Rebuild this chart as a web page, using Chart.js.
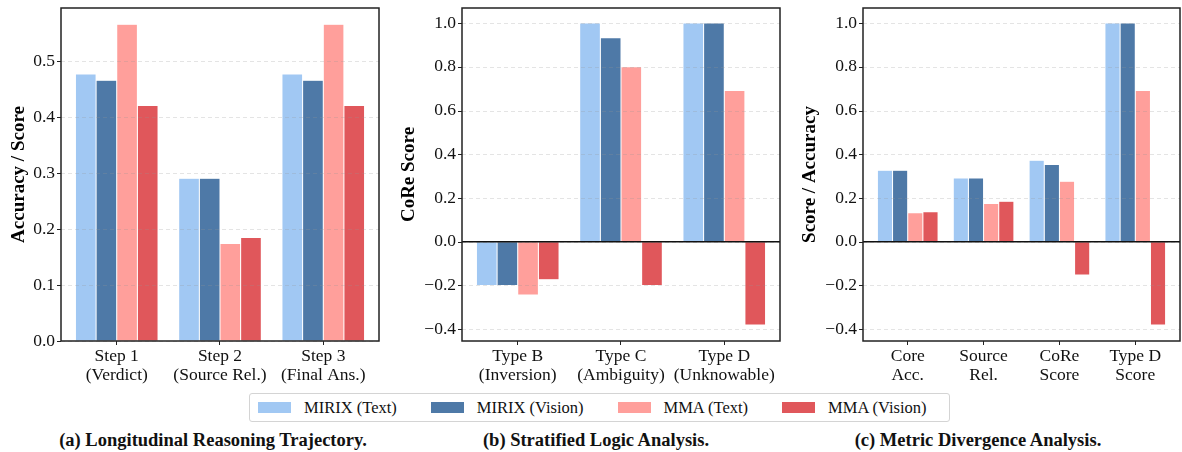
<!DOCTYPE html>
<html>
<head>
<meta charset="utf-8">
<script src="https://cdn.jsdelivr.net/npm/chart.js@4.4.0/dist/chart.umd.min.js"></script>
<style>
    html, body { margin: 0; padding: 0; background: #fff; }
    body { width: 1182px; height: 452px; position: relative; overflow: hidden; font-family: "Liberation Serif", "Times New Roman", serif; }
    .panel { position: absolute; top: 0; }
    .legend {
        position: absolute; left: 249px; top: 393px; width: 691px; height: 27px;
        border: 1px solid #d4d4d4; border-radius: 3px; box-sizing: content-box;
        display: flex; align-items: center; padding-left: 8px; gap: 34px;
        font-size: 16.5px; color: #111;
    }
    .legend .item { display: flex; align-items: center; white-space: nowrap; }
    .legend .sw { width: 33px; height: 11px; margin-right: 13px; }
    .caption { position: absolute; top: 430px; font-weight: bold; font-size: 18.5px; color: #111; white-space: nowrap; transform: translateX(-50%); }
</style>
</head>
<body>
<div class="panel" style="left:0px"><canvas id="chartA" width="390" height="390"></canvas></div>
<div class="panel" style="left:390px"><canvas id="chartB" width="400" height="390"></canvas></div>
<div class="panel" style="left:780px"><canvas id="chartC" width="402" height="390"></canvas></div>
<div class="legend" id="legend"></div>
<div class="caption" style="left:213px">(a) Longitudinal Reasoning Trajectory.</div>
<div class="caption" style="left:596px">(b) Stratified Logic Analysis.</div>
<div class="caption" style="left:978px">(c) Metric Divergence Analysis.</div>

<script>
    // Series names and colours
    const seriesNames = ['MIRIX (Text)', 'MIRIX (Vision)', 'MMA (Text)', 'MMA (Vision)'];
    const seriesColors = ['#a1c8f3', '#4e79a7', '#ff9f9b', '#e0575b'];

    // (a) Longitudinal reasoning trajectory
    const stepLabels = [['Step 1', '(Verdict)'], ['Step 2', '(Source Rel.)'], ['Step 3', '(Final Ans.)']];
    const stepMirixText = [0.477, 0.291, 0.477];
    const stepMirixVision = [0.466, 0.291, 0.466];
    const stepMmaText = [0.566, 0.174, 0.566];
    const stepMmaVision = [0.421, 0.185, 0.421];

    // (b) Stratified logic analysis
    const typeLabels = [['Type B', '(Inversion)'], ['Type C', '(Ambiguity)'], ['Type D', '(Unknowable)']];
    const typeMirixText = [-0.2, 1.0, 1.0];
    const typeMirixVision = [-0.2, 0.933, 1.0];
    const typeMmaText = [-0.244, 0.8, 0.692];
    const typeMmaVision = [-0.174, -0.2, -0.381];

    // (c) Metric divergence analysis
    const metricLabels = [['Core', 'Acc.'], ['Source', 'Rel.'], ['CoRe', 'Score'], ['Type D', 'Score']];
    const metricMirixText = [0.327, 0.292, 0.373, 1.0];
    const metricMirixVision = [0.327, 0.292, 0.353, 1.0];
    const metricMmaText = [0.132, 0.175, 0.277, 0.692];
    const metricMmaVision = [0.137, 0.185, -0.152, -0.381];

    const FONT = '"Liberation Serif", "Times New Roman", serif';

    // Frame, dashed grid, zero line and y tick marks (matplotlib look)
    const framePlugin = {
        id: 'frame',
        afterDatasetsDraw(chart, args, opts) {
            const ctx = chart.ctx;
            const area = chart.chartArea;
            const y = chart.scales.y;
            const left = area.left - opts.inset;
            const right = area.right + opts.inset;
            ctx.save();
            // grid lines
            ctx.strokeStyle = 'rgba(150,150,150,0.32)';
            ctx.lineWidth = 0.8;
            ctx.setLineDash([4, 3]);
            y.ticks.forEach(function(t) {
                const py = Math.round(y.getPixelForValue(t.value)) + 0.5;
                ctx.beginPath();
                ctx.moveTo(left, py);
                ctx.lineTo(right, py);
                ctx.stroke();
            });
            ctx.setLineDash([]);
            // zero line
            if (opts.zeroLine) {
                const py = y.getPixelForValue(0);
                ctx.strokeStyle = '#111';
                ctx.lineWidth = 1.3;
                ctx.beginPath();
                ctx.moveTo(left, py);
                ctx.lineTo(right, py);
                ctx.stroke();
            }
            // y tick marks
            ctx.strokeStyle = '#222';
            ctx.lineWidth = 1;
            y.ticks.forEach(function(t) {
                const py = Math.round(y.getPixelForValue(t.value)) + 0.5;
                ctx.beginPath();
                ctx.moveTo(left - 4, py);
                ctx.lineTo(left, py);
                ctx.stroke();
            });
            // frame
            ctx.strokeStyle = '#222';
            ctx.lineWidth = 1.5;
            ctx.strokeRect(left, area.top, right - left, area.bottom - area.top);
            ctx.restore();
        }
    };

    function tickFormat(value) {
        let v = Number(value);
        if (Math.abs(v) < 1e-9) v = 0;
        return v.toFixed(1).replace('-', '\u2212');
    }

    function buildDatasets(values) {
        return values.map(function(data, i) {
            return {
                label: seriesNames[i],
                data: data,
                backgroundColor: seriesColors[i],
                borderColor: 'rgba(255,255,255,0.5)',
                borderWidth: 0.5,
                borderSkipped: false,
                categoryPercentage: 0.8,
                barPercentage: 1.0
            };
        });
    }

    function makeChart(id, cfg) {
        const canvas = document.getElementById(id);
        return new Chart(canvas.getContext('2d'), {
            type: 'bar',
            data: {
                labels: cfg.labels,
                datasets: buildDatasets(cfg.values)
            },
            options: {
                responsive: false,
                animation: false,
                devicePixelRatio: 1,
                layout: { padding: { left: 0, right: cfg.padRight, top: 8, bottom: 0 } },
                plugins: {
                    legend: { display: false },
                    tooltip: { enabled: false },
                    frame: { inset: cfg.inset, zeroLine: cfg.zeroLine }
                },
                scales: {
                    x: {
                        offset: true,
                        border: { display: false },
                        grid: {
                            offset: false,
                            drawOnChartArea: false,
                            drawTicks: true,
                            tickLength: 4,
                            tickColor: '#222',
                            tickWidth: 1
                        },
                        ticks: {
                            color: '#111',
                            padding: 2,
                            maxRotation: 0,
                            autoSkip: false,
                            font: { family: FONT, size: 17.5, lineHeight: 1.1 }
                        },
                        afterFit: function(scale) {
                            scale.height = 49;
                            scale.paddingLeft = 0;
                            scale.paddingRight = 0;
                        }
                    },
                    y: {
                        min: cfg.yMin,
                        max: cfg.yMax,
                        border: { display: false },
                        grid: { display: false, drawTicks: false },
                        ticks: {
                            stepSize: cfg.step,
                            includeBounds: false,
                            color: '#111',
                            padding: cfg.inset + 6,
                            font: { family: FONT, size: 17.5 },
                            callback: tickFormat
                        },
                        title: {
                            display: true,
                            text: cfg.yTitle,
                            color: '#000',
                            padding: { top: cfg.titlePad, bottom: 0 },
                            font: { family: FONT, size: 19, weight: 'bold' }
                        },
                        afterFit: function(scale) {
                            scale.width = cfg.yWidth;
                            scale.paddingTop = 0;
                            scale.paddingBottom = 0;
                        }
                    }
                }
            },
            plugins: [framePlugin]
        });
    }

    makeChart('chartA', {
        labels: stepLabels,
        values: [stepMirixText, stepMirixVision, stepMmaText, stepMmaVision],
        yMin: 0, yMax: 0.595, step: 0.1,
        yTitle: 'Accuracy / Score',
        yWidth: 65.1, padRight: 15.1, inset: 4.1, titlePad: 7.6,
        zeroLine: false
    });

    makeChart('chartB', {
        labels: typeLabels,
        values: [typeMirixText, typeMirixVision, typeMmaText, typeMmaVision],
        yMin: -0.454, yMax: 1.069, step: 0.2,
        yTitle: 'CoRe Score',
        yWidth: 76.1, padRight: 14.1, inset: 4.1, titlePad: 7.6,
        zeroLine: true
    });

    makeChart('chartC', {
        labels: metricLabels,
        values: [metricMirixText, metricMirixVision, metricMmaText, metricMmaVision],
        yMin: -0.454, yMax: 1.069, step: 0.2,
        yTitle: 'Score / Accuracy',
        yWidth: 89.8, padRight: 8.8, inset: 6.8, titlePad: 18.6,
        zeroLine: true
    });

    // Shared legend
    const legend = document.getElementById('legend');
    seriesNames.forEach(function(name, i) {
        const item = document.createElement('div');
        item.className = 'item';
        const sw = document.createElement('span');
        sw.className = 'sw';
        sw.style.background = seriesColors[i];
        const txt = document.createElement('span');
        txt.textContent = name;
        item.appendChild(sw);
        item.appendChild(txt);
        legend.appendChild(item);
    });
</script>
</body>
</html>
